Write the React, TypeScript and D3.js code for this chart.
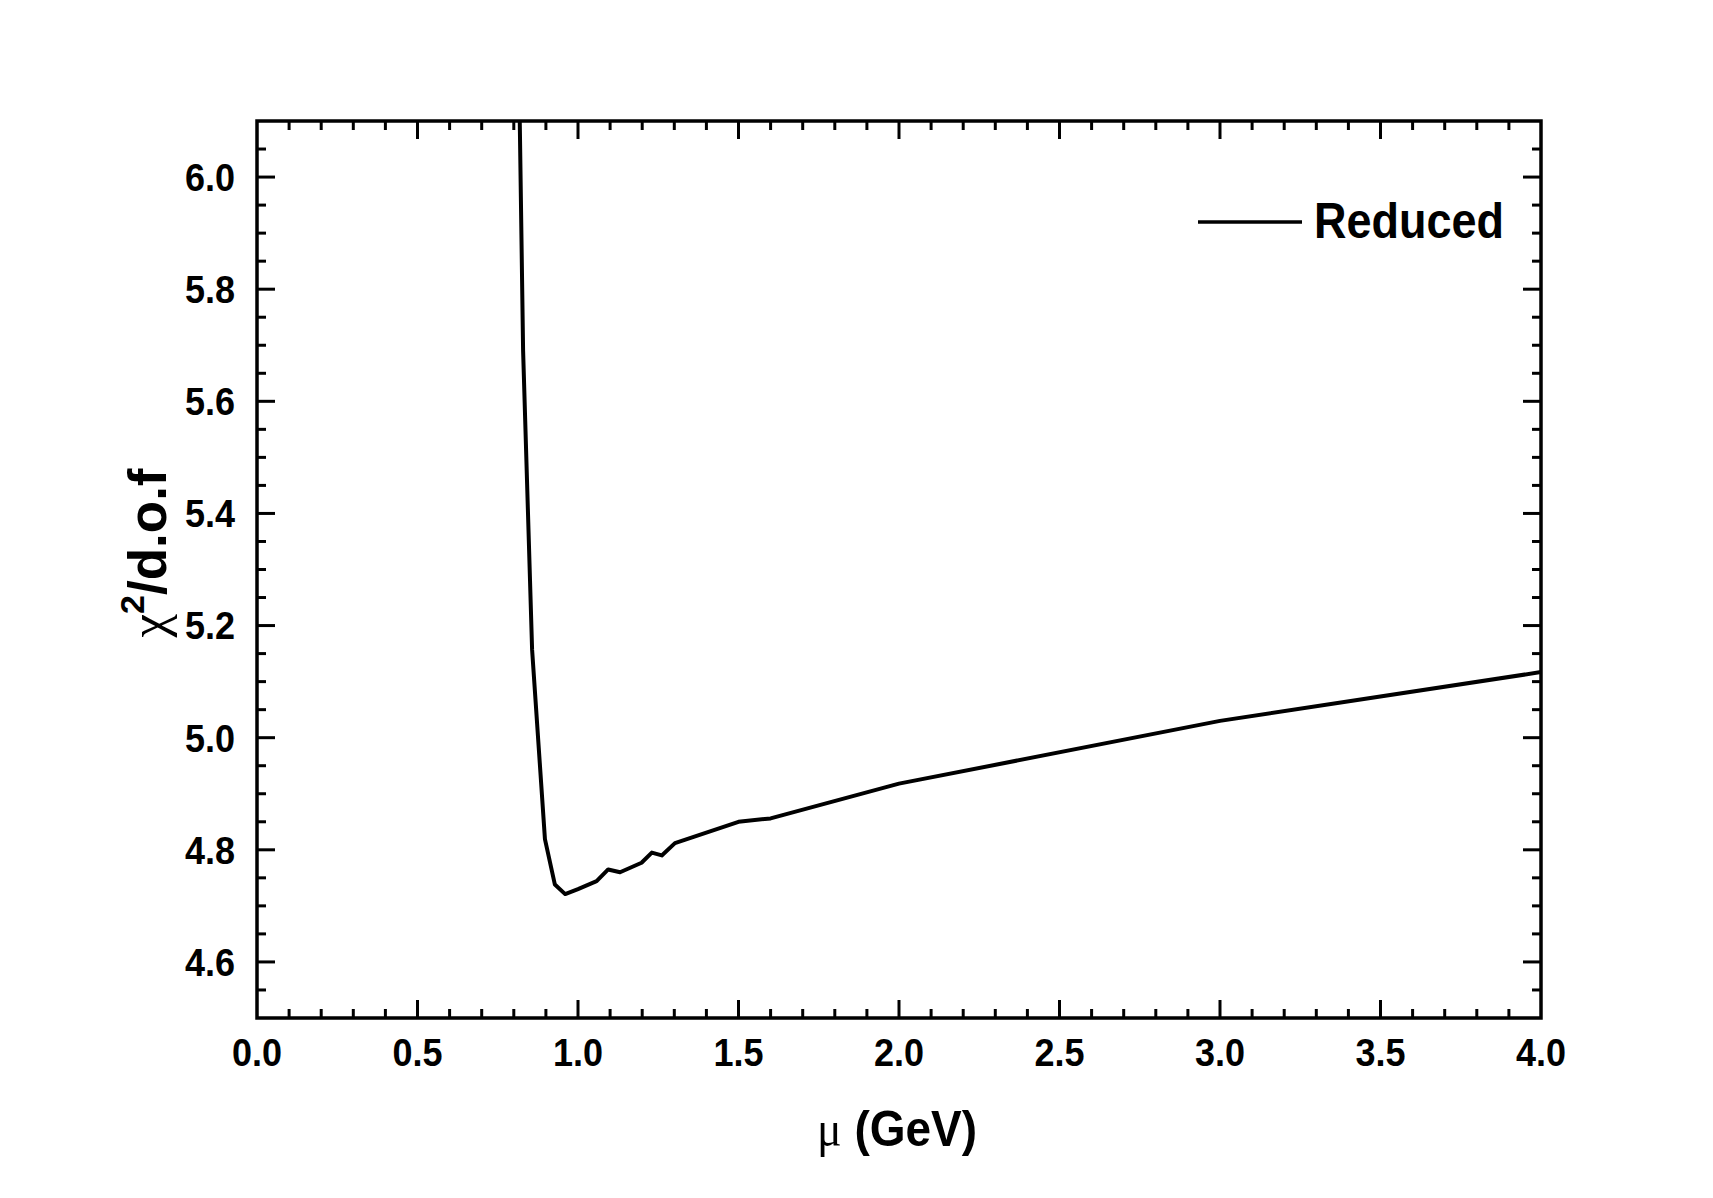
import React from 'react';
import * as d3 from 'd3';

// values
const muValues = [0.816, 0.829, 0.857, 0.897, 0.928, 0.96, 1.0, 1.058, 1.094, 1.131, 1.198, 1.23, 1.261, 1.302, 1.5, 1.6, 2.0, 3.0, 4.0];
const chiValues = [6.2, 5.69, 5.157, 4.819, 4.738, 4.721, 4.73, 4.744, 4.765, 4.76, 4.777, 4.795, 4.79, 4.812, 4.85, 4.856, 4.918, 5.03, 5.117];

const xMajorTicks = [0, 0.5, 1.0, 1.5, 2.0, 2.5, 3.0, 3.5, 4.0];
const yMajorTicks = [4.6, 4.8, 5.0, 5.2, 5.4, 5.6, 5.8, 6.0];
const legendLabel = 'Reduced';

const settings = {
  width: 1713,
  height: 1198,
  left: 257,
  right: 1541,
  top: 121,
  bottom: 1018,
  xDomain: [0, 4] as [number, number],
  yDomain: [4.5, 6.1] as [number, number],
  majorLen: 18,
  minorLen: 9
};

const FONT = 'Arial, "Liberation Sans", Helvetica, sans-serif';
const SERIF = '"Liberation Serif", "Times New Roman", serif';

function Frame({ xScale, yScale }: any) {
  const { left, right, top, bottom, majorLen, minorLen } = settings;
  const xMinor = d3.range(0, 41).map(i => i / 10);
  const yMinor = d3.range(0, 33).map(i => +(4.5 + i * 0.05).toFixed(2));
  const isMajorX = (v: number) => xMajorTicks.some(t => Math.abs(t - v) < 1e-6);
  const isMajorY = (v: number) => yMajorTicks.some(t => Math.abs(t - v) < 1e-6);

  return (
    <g stroke="#000" strokeWidth={3}>
      {xMinor.map(v => {
        const x = xScale(v);
        const len = isMajorX(v) ? majorLen : minorLen;
        if (v === 0 || v === 4) return null;
        return (
          <g key={'x' + v}>
            <line x1={x} x2={x} y1={bottom} y2={bottom - len} />
            <line x1={x} x2={x} y1={top} y2={top + len} />
          </g>
        );
      })}
      {yMinor.map(v => {
        const y = yScale(v);
        const len = isMajorY(v) ? majorLen : minorLen;
        if (v <= 4.5 || v >= 6.1) return null;
        return (
          <g key={'y' + v}>
            <line x1={left} x2={left + len} y1={y} y2={y} />
            <line x1={right} x2={right - len} y1={y} y2={y} />
          </g>
        );
      })}
      <rect x={left} y={top} width={right - left} height={bottom - top} fill="none" strokeWidth={3.5} />
    </g>
  );
}

function Labels({ xScale, yScale }: any) {
  const { left, bottom } = settings;
  return (
    <g fontFamily={FONT} fontWeight="bold" fill="#000">
      {xMajorTicks.map(v => (
        <text key={'xl' + v} transform={`translate(${xScale(v)},${bottom + 48}) scale(1,1.1)`} textAnchor="middle" fontSize={36}>
          {d3.format('.1f')(v)}
        </text>
      ))}
      {yMajorTicks.map(v => (
        <text key={'yl' + v} transform={`translate(${left - 22},${yScale(v)}) scale(1,1.1)`} dy="0.35em" textAnchor="end" fontSize={36}>
          {d3.format('.1f')(v)}
        </text>
      ))}
      <text transform="translate(897,1146) scale(1,1.1)" textAnchor="middle" fontSize={46}>
        <tspan fontFamily={SERIF} fontWeight="normal">μ</tspan>
        <tspan> (GeV)</tspan>
      </text>
      <text transform="translate(166,553) rotate(-90)" textAnchor="middle" fontSize={53}>
        <tspan fontFamily={SERIF} fontWeight="normal">χ</tspan>
        <tspan fontSize={34} dy={-22}>2</tspan>
        <tspan dy={22}>/d.o.f</tspan>
      </text>
    </g>
  );
}

function Legend() {
  return (
    <g>
      <line x1={1198} x2={1302} y1={222} y2={222} stroke="#000" strokeWidth={3.5} />
      <text transform="translate(1314,238) scale(1,1.1)" fontFamily={FONT} fontWeight="bold" fontSize={45} fill="#000">
        {legendLabel}
      </text>
    </g>
  );
}

export default function App() {
  const { width, height, left, right, top, bottom } = settings;
  const xScale = d3.scaleLinear().domain(settings.xDomain).range([left, right]);
  const yScale = d3.scaleLinear().domain(settings.yDomain).range([bottom, top]);

  const points = muValues.map((m, i) => [m, chiValues[i]] as [number, number]);
  const line = d3.line<[number, number]>()
    .x(d => xScale(d[0]))
    .y(d => yScale(d[1]));

  return (
    <svg width={width} height={height} style={{ position: 'absolute', left: 0, top: 0, background: '#fff' }}>
      <defs>
        <clipPath id="plot-clip">
          <rect x={left} y={top} width={right - left} height={bottom - top} />
        </clipPath>
      </defs>
      <rect width={width} height={height} fill="#fff" />
      <path d={line(points) || ''} fill="none" stroke="#000" strokeWidth={4} strokeLinejoin="round" clipPath="url(#plot-clip)" />
      <Frame xScale={xScale} yScale={yScale} />
      <Labels xScale={xScale} yScale={yScale} />
      <Legend />
    </svg>
  );
}
